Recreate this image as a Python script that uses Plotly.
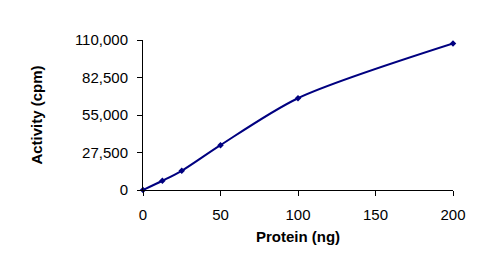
import plotly.graph_objects as go

protein_ng = [0, 12.5, 25, 50, 100, 200]
activity_cpm = [0, 6800, 14100, 32900, 67300, 107400]
y_ticks = [0, 27500, 55000, 82500, 110000]
x_ticks = [0, 50, 100, 150, 200]

fig = go.Figure()
fig.add_trace(go.Scatter(
    x=protein_ng, y=activity_cpm, mode="lines+markers",
    line=dict(color="#000080", width=2, shape="spline", smoothing=0.8),
    marker=dict(symbol="diamond", size=5, color="#000080"),
    cliponaxis=False, showlegend=False,
))

font = dict(family="Liberation Sans, Arial, sans-serif", size=15, color="black")
fig.update_layout(
    width=503, height=261,
    margin=dict(l=143, r=50, t=40, b=71),
    paper_bgcolor="white", plot_bgcolor="white",
    font=font,
)
fig.update_xaxes(
    range=[0, 200], tickvals=x_ticks, ticks="outside", ticklen=5, tickcolor="black",
    showline=True, linecolor="black", linewidth=1, showgrid=False, zeroline=False,
    ticklabelstandoff=6,
    title=dict(text="<b>Protein (ng)</b>", font=font, standoff=9),
)
fig.update_yaxes(
    range=[0, 110000], tickvals=y_ticks, tickformat=",d", ticks="outside", ticklen=5,
    tickcolor="black", showline=True, linecolor="black", linewidth=1, showgrid=False,
    zeroline=False, ticklabelstandoff=6,
    title=dict(text="<b>Activity (cpm)</b>", font=font, standoff=28),
)
fig.write_html("out.html")
